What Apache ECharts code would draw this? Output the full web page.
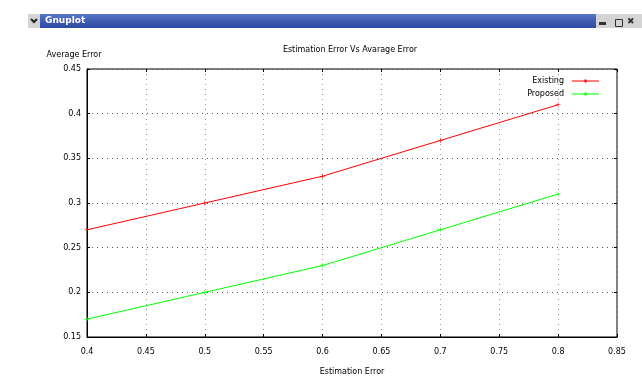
<!DOCTYPE html>
<html><head><meta charset="utf-8">
<script src="https://cdn.jsdelivr.net/npm/echarts@6/dist/echarts.min.js"></script>
<style>html,body{margin:0;padding:0;background:#fff}#c{width:642px;height:388px}</style>
</head><body><div id="c"></div>
<script>
const xValues = [0.4, 0.5, 0.6, 0.7, 0.8];
const existing = [0.27, 0.30, 0.33, 0.37, 0.41];
const proposed = [0.17, 0.20, 0.23, 0.27, 0.31];
const seriesNames = ['Existing', 'Proposed'];
const chartTitle = 'Estimation Error Vs Avarage Error';
const xName = 'Estimation Error';
const yName = 'Average Error';
const windowTitle = 'Gnuplot';

const FONT = 'DejaVu Sans';
const plus = 'path://M-1,-0.12H1V0.12H-1Z M-0.12,-1H0.12V1H-0.12Z';
const chart = echarts.init(document.getElementById('c'));
const pair = (xs, ys) => xs.map((x, i) => [x, ys[i]]);
const tickCommon = {inside: true, length: 3, lineStyle: {color: '#000'}};
chart.setOption({
  animation: false,
  backgroundColor: '#fff',
  title: {text: chartTitle, left: 345, top: 41, textAlign: 'center',
    textStyle: {fontFamily: FONT, fontSize: 8, fontWeight: 'normal', color: '#000'}},
  legend: {
    right: 38, top: 72, orient: 'vertical', align: 'right', itemGap: 5,
    itemWidth: 27, itemHeight: 9, icon: 'path://M0,4H27V5H0Z M12.5,3H14.5V6H12.5Z',
    textStyle: {fontFamily: FONT, fontSize: 8, color: '#000', padding: [0, 3, 0, 0]},
    data: seriesNames
  },
  grid: {left: 87, right: 25, top: 69, bottom: 51, show: true, borderColor: '#000', borderWidth: 1, backgroundColor: 'transparent'},
  xAxis: [{
    type: 'value', min: 0.4, max: 0.85, interval: 0.05,
    name: xName, nameLocation: 'middle', nameGap: 31,
    nameTextStyle: {fontFamily: FONT, fontSize: 8, color: '#000'},
    axisLine: {show: true, lineStyle: {color: '#000'}},
    axisTick: tickCommon,
    axisLabel: {fontFamily: FONT, fontSize: 8, color: '#000', margin: 11,
      formatter: v => String(+v.toFixed(2))},
    splitLine: {show: true, lineStyle: {color: '#999', type: [1, 4], width: 1}}
  }, {
    type: 'value', position: 'top', min: 0.4, max: 0.85, interval: 0.05,
    axisLine: {show: false}, axisTick: tickCommon, axisLabel: {show: false}, splitLine: {show: false}
  }],
  yAxis: [{
    type: 'value', min: 0.15, max: 0.45, interval: 0.05,
    name: yName, nameLocation: 'end', nameGap: 10,
    nameTextStyle: {fontFamily: FONT, fontSize: 8, color: '#000', align: 'center', padding: [0, 0, 0, -26]},
    axisLine: {show: true, lineStyle: {color: '#000'}},
    axisTick: tickCommon,
    axisLabel: {fontFamily: FONT, fontSize: 8, color: '#000', margin: 6,
      formatter: v => String(+v.toFixed(2))},
    splitLine: {show: true, lineStyle: {color: '#555', type: [1, 4], width: 1}}
  }, {
    type: 'value', position: 'right', min: 0.15, max: 0.45, interval: 0.05,
    axisLine: {show: false}, axisTick: tickCommon, axisLabel: {show: false}, splitLine: {show: false}
  }],
  series: [
    {name: seriesNames[0], type: 'line', data: pair(xValues, existing), color: '#ff0000',
     lineStyle: {width: 1, color: '#ff0000'}, symbol: plus, symbolSize: 5, showSymbol: true,
     itemStyle: {color: '#ff0000'}},
    {name: seriesNames[1], type: 'line', data: pair(xValues, proposed), color: '#00ff00',
     lineStyle: {width: 1, color: '#00ff00'}, symbol: plus, symbolSize: 5, showSymbol: true,
     itemStyle: {color: '#00ff00'}}
  ],
  graphic: [
    {type: 'rect', left: 28, top: 14, shape: {width: 12, height: 14}, style: {fill: '#d4d4d4'}},
    {type: 'polyline', shape: {points: [[31, 19], [34, 22], [37, 19]]}, style: {stroke: '#222', lineWidth: 2, fill: null}},
    {type: 'rect', left: 40, top: 14, shape: {width: 556, height: 14},
     style: {fill: new echarts.graphic.LinearGradient(0, 0, 0, 1, [
       {offset: 0, color: '#5a78c8'}, {offset: 0.5, color: '#3f5cb4'}, {offset: 1, color: '#2f4aa0'}])}},
    {type: 'text', left: 45, top: 16, style: {text: windowTitle, fill: '#fff', font: 'bold 9px DejaVu Sans'}},
    {type: 'rect', left: 596, top: 14, shape: {width: 46, height: 14}, style: {fill: '#d4d4d4'}},
    {type: 'rect', left: 599, top: 22, shape: {width: 7, height: 3}, style: {fill: '#333'}},
    {type: 'rect', left: 613, top: 17, shape: {width: 7, height: 7}, style: {fill: 'none', stroke: '#333', lineWidth: 1}},
    {type: 'text', left: 627, top: 17, style: {text: '✖', fill: '#333', font: 'bold 9px DejaVu Sans'}}
  ]
});
</script></body></html>
